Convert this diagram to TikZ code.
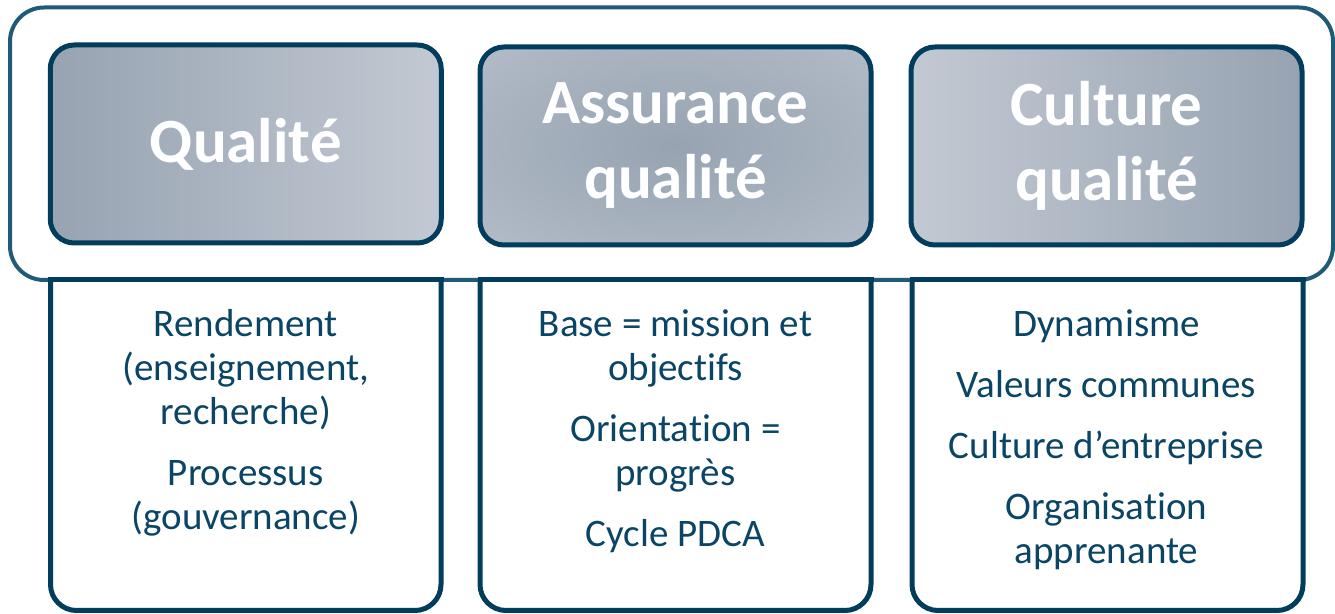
\documentclass[tikz,border=0pt]{standalone}
\usepackage{fontspec}
\setmainfont{Carlito}[Ligatures=NoCommon]
\usepackage{xcolor}
\usepackage{tikz}
\usetikzlibrary{positioning,calc}

\definecolor{navy}{HTML}{033D5E}
\definecolor{framecol}{HTML}{1F5A78}
\definecolor{txtblue}{HTML}{0B4565}
\definecolor{greydark}{HTML}{97A3B2}
\definecolor{greylight}{HTML}{C2C9D2}
\pgfdeclareradialshading{softradial}{\pgfpoint{0bp}{0bp}}{color(0bp)=(greydark); color(56bp)=(greylight); color(75bp)=(greylight)}

\begin{document}
\begin{tikzpicture}[x=0.5pt,y=-0.5pt,
    topbox/.style={draw=navy, line width=2.5pt, rounded corners=12pt, minimum width=195.5pt, minimum height=99pt, text=white, align=center, font=\bfseries\fontsize{31.5}{37.5}\selectfont},
    bottombox/.style={draw=navy, line width=2.5pt, fill=white, rounded corners=13pt},
    listtext/.style={anchor=north, align=center, inner sep=0pt, text=txtblue, font=\fontsize{19.5}{22}\selectfont}]
    \useasboundingbox (0,0) rectangle (1335,614);

    \draw[framecol, line width=2pt, rounded corners=17pt, fill=white] (10,7.5) rectangle (1333,280);

    \draw[bottombox] (50.5,280) -- (50.5,610.5) -- (441,610.5) -- (441,280);
    \draw[bottombox] (480,280) -- (480,610.5) -- (871,610.5) -- (871,280);
    \draw[bottombox] (912,280) -- (912,610.5) -- (1303,610.5) -- (1303,280);
    \draw[navy, line width=2.5pt, line cap=rect] (50.5,280) -- (441,280);
    \draw[navy, line width=2.5pt, line cap=rect] (480,280) -- (871,280);
    \draw[navy, line width=2.5pt, line cap=rect] (912,280) -- (1303,280);

    \node[topbox, left color=greydark, right color=greylight] (qualite) at (245.75,144) {Qualité};
    \node[topbox, shading=softradial] (assurance) at (675.5,146) {Assurance\\qualité};
    \node[topbox, left color=greylight, right color=greydark] (culture) at (1106.5,146) {Culture\\qualité};

    \node[listtext] (rendement) at (245.75,309) {Rendement\\(enseignement,\\recherche)\\[8.5pt]Processus\\(gouvernance)};
    \node[listtext] (base) at (675.5,309) {Base = mission et\\objectifs\\[8.5pt]Orientation =\\progrès\\[8.5pt]Cycle PDCA};
    \node[listtext] (dynamisme) at (1106.5,309) {Dynamisme\\[8.5pt]Valeurs communes\\[8.5pt]Culture d’entreprise\\[8.5pt]Organisation\\apprenante};
\end{tikzpicture}
\end{document}
